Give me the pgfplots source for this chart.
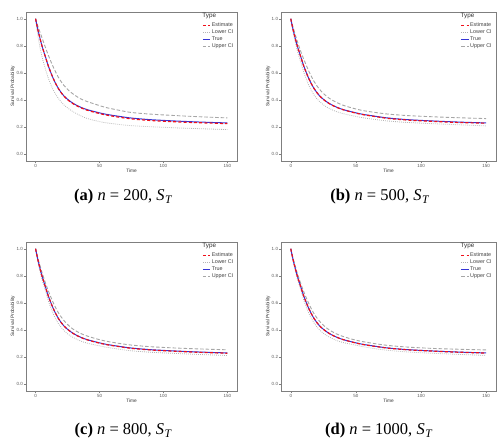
\documentclass[border=0pt]{standalone}
\usepackage{fontspec}
\setmainfont{Liberation Serif}
\newfontfamily\plotfont{Liberation Sans}
\usepackage{pgfplots}
\pgfplotsset{compat=1.18}
\usepackage{pgfplotstable}

\definecolor{estred}{HTML}{F0101A}
\definecolor{trueblue}{HTML}{3535D5}
\definecolor{cigray}{HTML}{A6A6A6}
\definecolor{lowgray}{HTML}{B5B5B5}
\definecolor{framegray}{HTML}{7F7F7F}

\pgfplotstableread{
t est lower true upper
0   1.000 1.000 1.000 1.000
2   0.910 0.860 0.910 0.940
5   0.800 0.720 0.800 0.860
8   0.710 0.620 0.710 0.780
10  0.650 0.560 0.650 0.730
14  0.555 0.470 0.555 0.640
18  0.482 0.410 0.483 0.565
22  0.430 0.365 0.432 0.510
26  0.395 0.335 0.398 0.470
30  0.369 0.310 0.372 0.440
35  0.345 0.285 0.348 0.410
40  0.326 0.265 0.330 0.390
48  0.305 0.245 0.310 0.365
55  0.290 0.232 0.295 0.345
65  0.274 0.220 0.280 0.325
75  0.261 0.211 0.267 0.308
90  0.249 0.203 0.255 0.296
110 0.239 0.195 0.245 0.285
130 0.232 0.188 0.237 0.276
150 0.226 0.182 0.231 0.268
}\tabA

\pgfplotstableread{
t est lower true upper
0   1.000 1.000 1.000 1.000
2   0.910 0.890 0.910 0.930
5   0.800 0.765 0.800 0.835
8   0.710 0.670 0.710 0.750
10  0.650 0.605 0.650 0.700
14  0.555 0.505 0.555 0.610
18  0.483 0.435 0.483 0.535
22  0.432 0.390 0.432 0.480
26  0.397 0.358 0.398 0.440
30  0.371 0.336 0.372 0.410
35  0.347 0.315 0.348 0.383
40  0.329 0.300 0.330 0.362
48  0.308 0.283 0.310 0.339
55  0.293 0.270 0.295 0.323
65  0.278 0.256 0.280 0.308
75  0.264 0.245 0.267 0.296
90  0.252 0.234 0.255 0.285
110 0.242 0.225 0.245 0.276
130 0.234 0.217 0.237 0.269
150 0.229 0.209 0.231 0.263
}\tabB

\pgfplotstableread{
t est lower true upper
0   1.000 1.000 1.000 1.000
2   0.910 0.895 0.910 0.925
5   0.800 0.775 0.800 0.825
8   0.710 0.680 0.710 0.740
10  0.650 0.615 0.650 0.688
14  0.555 0.515 0.555 0.598
18  0.483 0.445 0.483 0.525
22  0.432 0.398 0.432 0.472
26  0.398 0.365 0.398 0.432
30  0.371 0.342 0.372 0.402
35  0.347 0.320 0.348 0.376
40  0.329 0.304 0.330 0.357
48  0.308 0.287 0.310 0.334
55  0.293 0.274 0.295 0.318
65  0.278 0.259 0.280 0.302
75  0.265 0.247 0.267 0.289
90  0.253 0.236 0.255 0.277
110 0.243 0.227 0.245 0.267
130 0.235 0.219 0.237 0.260
150 0.229 0.212 0.231 0.254
}\tabC

\pgfplotstableread{
t est lower true upper
0   1.000 1.000 1.000 1.000
2   0.910 0.898 0.910 0.922
5   0.800 0.780 0.800 0.820
8   0.710 0.686 0.710 0.735
10  0.650 0.620 0.650 0.682
14  0.555 0.520 0.555 0.592
18  0.483 0.450 0.483 0.518
22  0.432 0.402 0.432 0.466
26  0.398 0.369 0.398 0.427
30  0.372 0.346 0.372 0.398
35  0.348 0.324 0.348 0.372
40  0.330 0.308 0.330 0.353
48  0.309 0.292 0.310 0.330
55  0.294 0.278 0.295 0.315
65  0.279 0.262 0.280 0.299
75  0.266 0.250 0.267 0.286
90  0.254 0.238 0.255 0.274
110 0.244 0.228 0.245 0.264
130 0.236 0.220 0.237 0.258
150 0.230 0.213 0.231 0.253
}\tabD

\pgfplotsset{
  estS/.style={estred, line width=1.2pt, dash pattern=on 3pt off 2.2pt},
  lowS/.style={lowgray, line width=0.8pt, dash pattern=on 0.8pt off 1.2pt},
  trueS/.style={trueblue, line width=1pt},
  upS/.style={cigray, line width=0.9pt, dash pattern=on 3.5pt off 2pt},
  survstyle/.style={
    scale only axis, height=149pt,
    anchor=south west,
    xmin=-7.5, xmax=157.5, ymin=-0.05, ymax=1.05,
    xtick={0,50,100,150}, ytick={0,0.2,0.4,0.6,0.8,1},
    /pgf/number format/assume math mode=true,
    yticklabel style={/pgf/number format/.cd,fixed,fixed zerofill,precision=1},
    ticklabel style={font=\plotfont\fontsize{4.5}{5}\selectfont, text=black!65, inner sep=0.8pt},
    axis line style={framegray, line width=0.8pt},
    tick style={framegray, line width=0.5pt},
    major tick length=2pt, tick align=outside, tick pos=left,
    xlabel={Time}, ylabel={Survival Probability},
    label style={font=\plotfont\fontsize{4.8}{5.5}\selectfont, text=black!80, inner sep=0.5pt},
    legend style={at={(0.835,0.935)}, anchor=north west, draw=none, fill=none,
      font=\plotfont\fontsize{5.4}{6}\selectfont, text=black!75, inner sep=0pt,
      row sep=0.3pt, cells={anchor=west}, nodes={inner sep=0.7pt}},
    legend image code/.code={\draw[##1, dash phase=0pt] (0pt,0pt) -- (7.5pt,0pt);},
  },
}

\newcommand{\panel}[1]{%
  \addlegendimage{estS}\addlegendentry{Estimate}
  \addlegendimage{lowS}\addlegendentry{Lower CI}
  \addlegendimage{trueS}\addlegendentry{True}
  \addlegendimage{upS}\addlegendentry{Upper CI}
  \addplot[upS, smooth, forget plot] table[x=t, y=upper] {#1};
  \addplot[lowS, smooth, forget plot] table[x=t, y=lower] {#1};
  \addplot[trueS, smooth, forget plot] table[x=t, y=true] {#1};
  \addplot[estS, smooth, forget plot] table[x=t, y=est] {#1};
  \node[anchor=west, font=\plotfont\fontsize{6.3}{7}\selectfont, text=black!80, inner sep=0pt]
    at (rel axis cs:0.835,0.973) {Type};
}

\begin{document}
\begin{tikzpicture}
\useasboundingbox (0,0) rectangle (500pt,442pt);

\begin{axis}[survstyle, width=211pt, at={(26pt,281pt)}]
\panel{\tabA}
\end{axis}
\begin{axis}[survstyle, width=215pt, at={(281pt,281pt)}]
\panel{\tabB}
\end{axis}
\begin{axis}[survstyle, width=211pt, at={(26pt,51pt)}]
\panel{\tabC}
\end{axis}
\begin{axis}[survstyle, width=215pt, at={(281pt,51pt)}]
\panel{\tabD}
\end{axis}

\node[font=\fontsize{16.5}{18}\selectfont] at (123.5pt,245pt) {\textbf{(a)} \textit{n} = 200, \textit{S}\textsubscript{\kern0.5pt\textit{T}}};
\node[font=\fontsize{16.5}{18}\selectfont] at (380pt,245pt) {\textbf{(b)} \textit{n} = 500, \textit{S}\textsubscript{\kern0.5pt\textit{T}}};
\node[font=\fontsize{16.5}{18}\selectfont] at (123.5pt,11.5pt) {\textbf{(c)} \textit{n} = 800, \textit{S}\textsubscript{\kern0.5pt\textit{T}}};
\node[font=\fontsize{16.5}{18}\selectfont] at (379pt,11.5pt) {\textbf{(d)} \textit{n} = 1000, \textit{S}\textsubscript{\kern0.5pt\textit{T}}};
\end{tikzpicture}
\end{document}
